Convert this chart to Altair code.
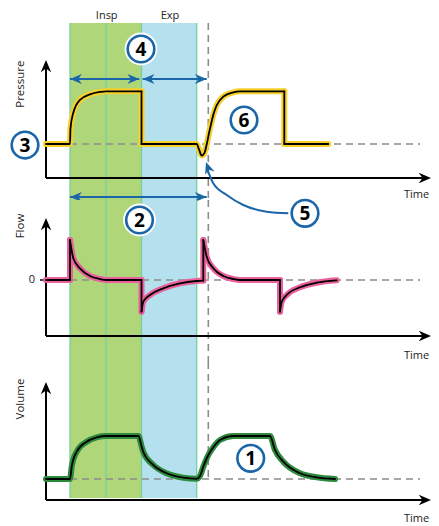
import altair as alt
import pandas as pd

FONT = "Open Sans"
BLUE = "#1a66a8"
GREEN_BAND = "#b0d67a"
BLUE_BAND = "#b5e1ee"
BAND_EDGE = "#74cfa0"
DASH_GRAY = "#8c8c8c"
TEXT = "#222222"

# ---------------- time axis (arbitrary units, 0 = axis origin) ----------------
t_domain = [-38, 385]
insp_start, insp_mid, exp_start, exp_end, next_trigger = 24, 60, 95.5, 150.7, 162.3
baseline_end = 374
axis_end = 385

# ---------------- panel value domains ----------------
p_domain = [-3.235, 25]
f_domain = [-82, 80]
v_domain = [-180, 1380]

# ---------------- waveforms (t, value) per segment ----------------
pressure_segments = [
    [(0, 5), (24, 5), (24.5, 7.3), (27.3, 9.6), (34, 11.5), (44, 12.3), (54, 12.65), (60, 12.75), (95.5, 12.75)],
    [(95.5, 12.75), (95.5, 5)],
    [(95.5, 5), (150.7, 5), (153, 4.2), (155.7, 3.3), (158.5, 3.7), (160.8, 5.0), (163, 6.6), (164.7, 7.7),
     (167.3, 9.3), (170.7, 10.7), (177.3, 11.96), (187.3, 12.6), (194, 12.75), (238.3, 12.75)],
    [(238.3, 12.75), (238.3, 5)],
    [(238.3, 5), (282.3, 5)],
]

flow_segments = [
    [(0, 0), (24, 0)],
    [(24, 0), (24, 40)],
    [(24, 40), (27.3, 21.7), (34, 11.7), (44, 4), (54, 1), (60, 0), (95.5, 0)],
    [(95.5, 0), (95.5, -31.7)],
    [(95.5, -31.7), (97.3, -21.7), (104, -15), (117.3, -8.3), (134, -3.3), (150.7, -1), (157.3, -0.6)],
    [(157.3, -0.6), (157.3, 40)],
    [(157.3, 40), (160.7, 23.3), (167.3, 11.7), (177.3, 4), (187.3, 1), (194, 0), (234, 0)],
    [(234, 0), (234, -31.7)],
    [(234, -31.7), (235.7, -21.7), (240.7, -15), (254, -7.3), (270.7, -2.7), (290.7, -0.3)],
]

volume_segments = [
    [(0, 210), (24, 210), (25.7, 333), (30.7, 483), (40.7, 583), (50.7, 627), (60, 640), (92.5, 640),
     (95.5, 540), (97.3, 480), (107.3, 350), (120.7, 267), (137.3, 223), (150.7, 212), (154, 240),
     (157.3, 333), (162.3, 450), (167.3, 527), (174, 600), (187.3, 640), (224, 640), (229, 500),
     (237.3, 383), (254, 267), (270.7, 227), (289, 210)],
]

# ---------------- annotations ----------------
# (number, t, value, white halo)
pressure_circles = [("3", -21, 4.85, False), ("4", 95, 18.97, True), ("6", 198, 8.53, False),
                    ("5", 259, -5.19, False)]
flow_circles = [("2", 93.5, 60, True)]
volume_circles = [("1", 204.7, 417, False)]

phase_labels = [("Insp", 60.7, 23.38), ("Exp", 124, 23.45)]

# double-headed arrows (t_start, t_end, value) in pressure units
pressure_arrows = [(24, 93.3, 14.56), (96.7, 160.7, 14.56), (24, 160.7, -2.79)]

# curved arrow from circle 5 to the trigger dip
curve_t = [161.5, 167.3, 180.7, 197.3, 220.7, 242.3]
curve_p = [1.2, -0.78, -2.5, -3.97, -4.96, -5.19]
curve_tip = (160, 2.35)

ARROW_PATH = "M0,0 L-2,-0.85 L-1.4,0 L-2,0.85 Z"


def xs():
    return alt.Scale(domain=t_domain, nice=False, zero=False)


def ys(domain):
    return alt.Scale(domain=domain, nice=False, zero=False)


def X(field="t"):
    return alt.X(f"{field}:Q", scale=xs(), axis=None)


def Y(domain, field="v"):
    return alt.Y(f"{field}:Q", scale=ys(domain), axis=None)


def bands(domain, top, bottom):
    df_g = pd.DataFrame({"t": [insp_start], "t2": [exp_start], "v": [top], "v2": [bottom]})
    df_b = pd.DataFrame({"t": [exp_start], "t2": [exp_end], "v": [top], "v2": [bottom]})
    g = alt.Chart(df_g).mark_rect(color=GREEN_BAND, opacity=1).encode(
        x=X(), x2="t2:Q", y=Y(domain), y2="v2:Q")
    b = alt.Chart(df_b).mark_rect(color=BLUE_BAND, opacity=1).encode(
        x=X(), x2="t2:Q", y=Y(domain), y2="v2:Q")
    edges = pd.DataFrame({"t": [insp_start, insp_mid, exp_start, exp_end],
                          "v": [top] * 4, "v2": [bottom] * 4})
    e = alt.Chart(edges).mark_rule(color=BAND_EDGE, strokeWidth=1.3).encode(
        x=X(), y=Y(domain), y2="v2:Q")
    return [g, b, e]


def vdash(domain, top, bottom):
    df = pd.DataFrame({"t": [next_trigger], "v": [top], "v2": [bottom]})
    return alt.Chart(df).mark_rule(color=DASH_GRAY, strokeWidth=1.6, strokeDash=[7, 5]).encode(
        x=X(), y=Y(domain), y2="v2:Q")


def hdash(domain, value):
    df = pd.DataFrame({"t": [0], "t2": [baseline_end], "v": [value]})
    return alt.Chart(df).mark_rule(color=DASH_GRAY, strokeWidth=1.6, strokeDash=[7, 5]).encode(
        x=X(), x2="t2:Q", y=Y(domain))


def wave(domain, segments, glow):
    rows = []
    for s, seg in enumerate(segments):
        for i, (t, v) in enumerate(seg):
            rows.append({"seg": s, "i": i, "t": t, "v": v})
    df = pd.DataFrame(rows)
    base = alt.Chart(df).encode(x=X(), y=Y(domain), detail="seg:N", order="i:Q")
    g = base.mark_line(color=glow, strokeWidth=6, interpolate="monotone",
                       strokeCap="round", strokeJoin="round")
    k = base.mark_line(color="black", strokeWidth=1.8, interpolate="monotone",
                       strokeCap="round", strokeJoin="round")
    return [g, k]


def axes(domain, axis_v, tip_v, title, title_v, time_v):
    layers = []
    ya = pd.DataFrame({"t": [0], "v": [axis_v], "v2": [tip_v - (tip_v - axis_v) * 0.03]})
    layers.append(alt.Chart(ya).mark_rule(color="black", strokeWidth=2).encode(
        x=X(), y=Y(domain), y2="v2:Q"))
    xa = pd.DataFrame({"t": [0], "t2": [axis_end - 4], "v": [axis_v]})
    layers.append(alt.Chart(xa).mark_rule(color="black", strokeWidth=2).encode(
        x=X(), x2="t2:Q", y=Y(domain)))
    heads = pd.DataFrame({"t": [0, axis_end], "v": [tip_v, axis_v], "a": [270, 0]})
    layers.append(alt.Chart(heads).mark_point(shape=ARROW_PATH, size=150, filled=True,
                                              color="black", opacity=1).encode(
        x=X(), y=Y(domain), angle=alt.Angle("a:Q", scale=None)))
    tl = pd.DataFrame({"t": [-25], "v": [title_v], "txt": [title]})
    layers.append(alt.Chart(tl).mark_text(angle=270, font=FONT, fontSize=11.5, color=TEXT,
                                          align="center", baseline="middle").encode(
        x=X(), y=Y(domain), text="txt:N"))
    tm = pd.DataFrame({"t": [370.5], "v": [time_v], "txt": ["Time"]})
    layers.append(alt.Chart(tm).mark_text(font=FONT, fontSize=11, color=TEXT,
                                          align="center", baseline="middle").encode(
        x=X(), y=Y(domain), text="txt:N"))
    return layers


def circles(domain, items):
    df = pd.DataFrame({"txt": [c[0] for c in items], "t": [c[1] for c in items],
                       "v": [c[2] for c in items]})
    halo_items = [c for c in items if c[3]]
    layers = []
    if halo_items:
        hdf = pd.DataFrame({"t": [c[1] for c in halo_items], "v": [c[2] for c in halo_items]})
        layers.append(alt.Chart(hdf).mark_point(shape="circle", size=1075, filled=True,
                                                color="white", opacity=1).encode(
            x=X(), y=Y(domain)))
    layers.append(alt.Chart(df).mark_point(shape="circle", size=855, filled=True,
                                           color=BLUE, opacity=1).encode(
        x=X(), y=Y(domain)))
    layers.append(alt.Chart(df).mark_point(shape="circle", size=573, filled=True,
                                           color="white", opacity=1).encode(
        x=X(), y=Y(domain)))
    layers.append(alt.Chart(df).mark_text(font=FONT, fontWeight="bold", fontSize=19, color="black",
                                          align="center", baseline="middle", dy=1).encode(
        x=X(), y=Y(domain), text="txt:N"))
    return layers


def dbl_arrows(domain, items):
    df = pd.DataFrame({"t": [a[0] for a in items], "t2": [a[1] for a in items],
                       "v": [a[2] for a in items]})
    line = alt.Chart(df).mark_rule(color=BLUE, strokeWidth=2).encode(
        x=X(), x2="t2:Q", y=Y(domain))
    hd = pd.DataFrame({"t": [a[0] for a in items] + [a[1] for a in items],
                       "v": [a[2] for a in items] * 2,
                       "a": [180] * len(items) + [0] * len(items)})
    heads = alt.Chart(hd).mark_point(shape=ARROW_PATH, size=140, filled=True, color=BLUE,
                                     opacity=1).encode(
        x=X(), y=Y(domain), angle=alt.Angle("a:Q", scale=None))
    return [line, heads]


# ---------------- Pressure panel ----------------
p_layers = []
p_layers += bands(p_domain, 22.79, p_domain[0])
p_layers.append(vdash(p_domain, 22.79, p_domain[0]))
p_layers.append(hdash(p_domain, 5))
p_layers += axes(p_domain, 0, 17.35, "Pressure", 13.8, -2.57)
p_layers += wave(p_domain, pressure_segments, "#f6d02c")
lab = pd.DataFrame({"txt": [l[0] for l in phase_labels], "t": [l[1] for l in phase_labels],
                    "v": [l[2] for l in phase_labels]})
p_layers.append(alt.Chart(lab).mark_text(font=FONT, fontSize=11, color=TEXT, align="center",
                                         baseline="alphabetic").encode(
    x=X(), y=Y(p_domain), text="txt:N"))
p_layers += dbl_arrows(p_domain, pressure_arrows)
cdf = pd.DataFrame({"t": curve_t, "v": curve_p})
p_layers.append(alt.Chart(cdf).mark_line(color=BLUE, strokeWidth=2, interpolate="monotone").encode(
    x=X(), y=Y(p_domain)))
tip = pd.DataFrame({"t": [curve_tip[0]], "v": [curve_tip[1]], "a": [251]})
p_layers.append(alt.Chart(tip).mark_point(shape=ARROW_PATH, size=140, filled=True, color=BLUE,
                                          opacity=1).encode(
    x=X(), y=Y(p_domain), angle=alt.Angle("a:Q", scale=None)))
p_layers += circles(p_domain, pressure_circles)
pressure_panel = alt.layer(*p_layers).properties(width=423, height=192)

# ---------------- Flow panel ----------------
f_layers = []
f_layers += bands(f_domain, f_domain[1], f_domain[0])
f_layers.append(vdash(f_domain, f_domain[1], f_domain[0]))
f_layers.append(hdash(f_domain, 0))
f_layers += axes(f_domain, -56, 62, "Flow", 54, -76)
tick = pd.DataFrame({"t": [-6], "t2": [0], "v": [0]})
f_layers.append(alt.Chart(tick).mark_rule(color="black", strokeWidth=1.5).encode(
    x=X(), x2="t2:Q", y=Y(f_domain)))
zero = pd.DataFrame({"t": [-14], "v": [0], "txt": ["0"]})
f_layers.append(alt.Chart(zero).mark_text(font=FONT, fontSize=11, color=TEXT, align="center",
                                          baseline="middle").encode(
    x=X(), y=Y(f_domain), text="txt:N"))
f_layers += wave(f_domain, flow_segments, "#e9609c")
f_layers += circles(f_domain, flow_circles)
flow_panel = alt.layer(*f_layers).properties(width=423, height=162)

# ---------------- Volume panel ----------------
v_layers = []
v_layers += bands(v_domain, v_domain[1], 20)
v_layers.append(vdash(v_domain, v_domain[1], 210))
v_layers.append(hdash(v_domain, 210))
v_layers += axes(v_domain, 0, 1180, "Volume", 1010, -185)
v_layers += wave(v_domain, volume_segments, "#2e8b3e")
v_layers += circles(v_domain, volume_circles)
volume_panel = alt.layer(*v_layers).properties(width=423, height=156)

chart = alt.vconcat(pressure_panel, flow_panel, volume_panel, spacing=0, bounds="flush").properties(
    padding=0
).configure_view(stroke=None)

chart.save("out.html", embed_options={"renderer": "svg", "actions": False})
